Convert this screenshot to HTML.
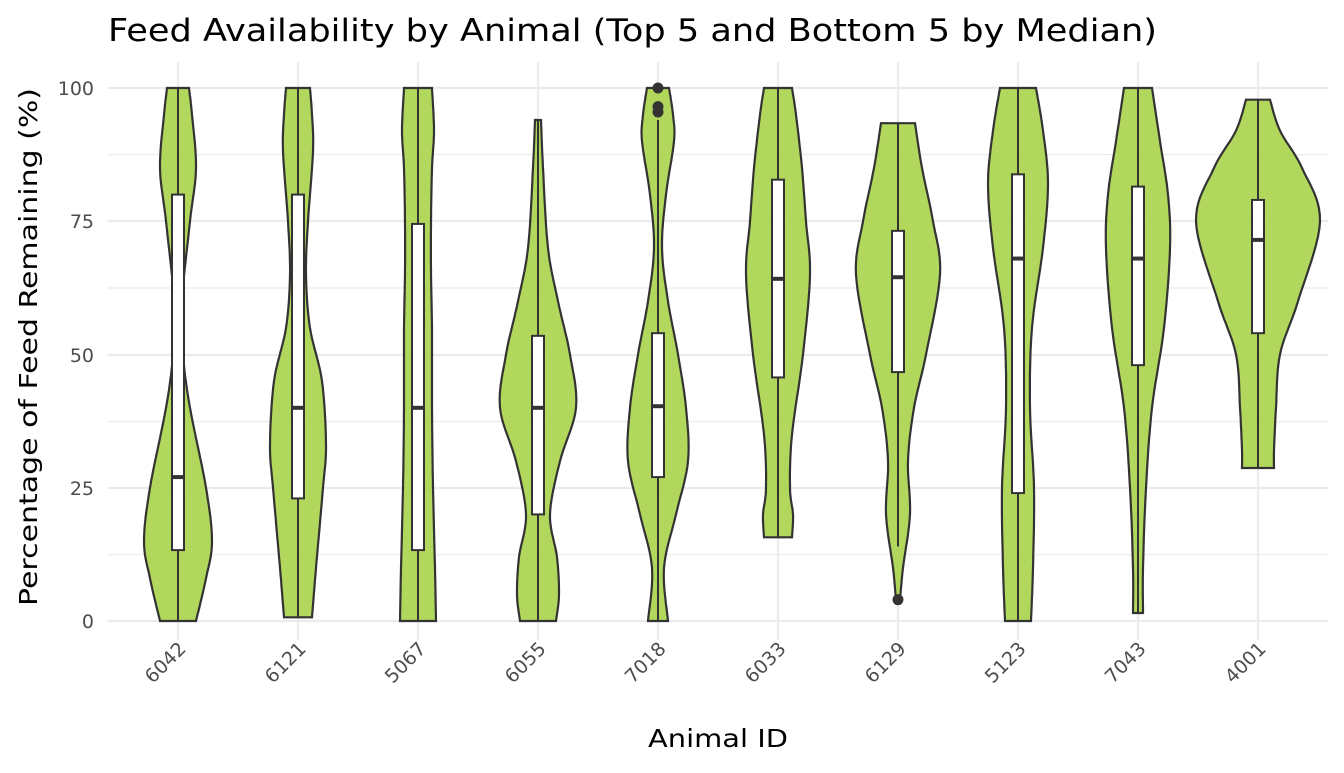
<!DOCTYPE html>
<html><head><meta charset="utf-8"><style>
body{margin:0;background:#fff}
svg text{font-family:"DejaVu Sans","Liberation Sans",sans-serif}
</style></head><body>
<svg id="s" width="1344" height="768" xmlns="http://www.w3.org/2000/svg">
<rect width="1344" height="768" fill="#fff"/>
<g stroke="#ebebeb" stroke-width="1.2">
<line x1="108" x2="1328" y1="154.6" y2="154.6"/><line x1="108" x2="1328" y1="288" y2="288"/>
<line x1="108" x2="1328" y1="421.5" y2="421.5"/><line x1="108" x2="1328" y1="554.7" y2="554.7"/>
</g>
<g id="grid" stroke="#ebebeb" stroke-width="2.2"></g>
<g id="v"></g>
<text x="108" y="41" font-size="31" fill="#000" textLength="1049" lengthAdjust="spacingAndGlyphs">Feed Availability by Animal (Top 5 and Bottom 5 by Median)</text>
<g font-size="19" fill="#4d4d4d" text-anchor="end">
<text x="94" y="628">0</text><text x="94" y="495">25</text><text x="94" y="362">50</text><text x="94" y="228">75</text><text x="94" y="95">100</text>
</g>
<g id="xl" font-size="19" fill="#4d4d4d" text-anchor="end"></g>
<text x="718" y="747" font-size="25" text-anchor="middle" textLength="140" lengthAdjust="spacingAndGlyphs">Animal ID</text>
<text transform="translate(37,347) rotate(-90)" font-size="25" text-anchor="middle" textLength="518" lengthAdjust="spacingAndGlyphs">Percentage of Feed Remaining (%)</text>
</svg>
<script>
const Y=v=>621-v*5.33;
const D=[
["6042",[[0,18],[8,28],[15,34],[25,28],[40,12],[50,5],[60,4],[75,12],[85,18],[95,14],[100,11]],[13.3,27,80],[0,100],[]],
["6121",[[0.7,14],[10,18],[25,25],[33,28],[45,24],[55,12],[65,8],[75,10],[88,15],[95,14],[100,12]],[23,40,80],[0.7,100],[]],
["5067",[[0,18],[10,17],[25,15],[40,14],[55,14],[65,13],[75,13],[85,14],[92,16],[100,14]],[13.3,40,74.5],[0,100],[]],
["6055",[[0,18],[5,21],[12,19],[20,12],[30,22],[40,38],[50,32],[60,20],[70,10],[85,5],[94,3]],[20,40,53.5],[0,94],[]],
["7018",[[0,10],[10,6],[20,18],[30,30],[40,28],[50,20],[60,10],[70,4],[80,8],[90,16],[95,15],[100,11]],[27,40.3,54],[0,94],[100,96.5,95.5]],
["6033",[[15.7,14],[20,15],[25,12],[35,14],[50,25],[65,32],[75,28],[85,24],[95,18],[100,14]],[45.7,64.2,82.8],[15.7,100],[]],
["6129",[[4,2],[10,5],[20,12],[30,10],[40,16],[50,28],[65,42],[75,35],[85,24],[93.4,17]],[46.7,64.5,73.2],[14,93.4],[4]],
["5123",[[0,13],[10,15],[25,16],[40,12],[55,14],[70,25],[82,30],[92,25],[100,18]],[24,68,83.8],[0,100],[]],
["7043",[[1.5,5],[10,5],[25,8],[40,14],[55,26],[70,32],[80,30],[90,22],[100,14]],[48,68,81.5],[1.5,100],[]],
["4001",[[28.7,16],[32,16],[40,18],[50,22],[60,40],[75,62],[85,44],[92,22],[97.8,12]],[54,71.5,79],[28.7,97.8],[]]
];
function interp(p){const o=[];for(let i=0;i<p.length-1;i++){const p0=p[Math.max(i-1,0)],p1=p[i],p2=p[i+1],p3=p[Math.min(i+2,p.length-1)];for(let t=0;t<1;t+=0.1){const t2=t*t,t3=t2*t;const f=(a,b,c,d)=>0.5*(2*b+(-a+c)*t+(2*a-5*b+4*c-d)*t2+(-a+3*b-3*c+d)*t3);o.push([f(p0[0],p1[0],p2[0],p3[0]),Math.max(1,f(p0[1],p1[1],p2[1],p3[1]))]);}}o.push(p[p.length-1]);return o;}
let g='',gr='',xl='';
[88,221,355,488,621].forEach(y=>gr+=`<line x1="108" x2="1328" y1="${y}" y2="${y}"/>`);
D.forEach((d,i)=>{const x=178+120*i;gr+=`<line x1="${x}" x2="${x}" y1="62" y2="640"/>`;
const pts=interp(d[1]);let r=pts.map(p=>`${(x+p[1]).toFixed(1)},${Y(p[0]).toFixed(1)}`),l=pts.slice().reverse().map(p=>`${(x-p[1]).toFixed(1)},${Y(p[0]).toFixed(1)}`);
g+=`<polygon points="${r.join(' ')} ${l.join(' ')}" fill="#a8d44a" fill-opacity="0.9" stroke="#333" stroke-width="2.2"/>`;
const b=d[2];g+=`<line x1="${x}" x2="${x}" y1="${Y(d[3][0])}" y2="${Y(d[3][1])}" stroke="#333" stroke-width="2"/>`;
g+=`<rect x="${x-6}" y="${Y(b[2])}" width="12" height="${Y(b[0])-Y(b[2])}" fill="#fff" stroke="#333" stroke-width="2"/>`;
g+=`<line x1="${x-6}" x2="${x+6}" y1="${Y(b[1])}" y2="${Y(b[1])}" stroke="#333" stroke-width="4"/>`;
d[4].forEach(o=>g+=`<circle cx="${x}" cy="${Y(o)}" r="5.5" fill="#333"/>`);
xl+=`<text transform="translate(${x+9},${650}) rotate(-45)">${d[0]}</text>`;});
document.getElementById('v').innerHTML=g;document.getElementById('grid').innerHTML=gr;document.getElementById('xl').innerHTML=xl;
</script>
</body></html>
